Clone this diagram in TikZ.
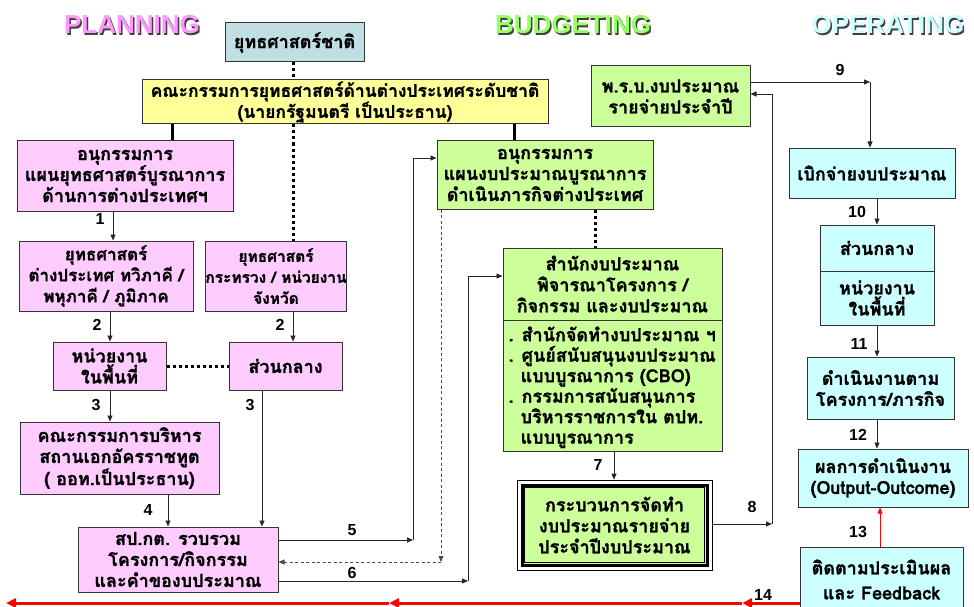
\documentclass[tikz,border=0pt]{standalone}
\usepackage{fontspec}
\setmainfont{Liberation Sans}
\newfontfamily\thaifont[Script=Thai, BoldFeatures={FakeBold=1.2}]{Loma}
\usetikzlibrary{arrows.meta,calc}
\definecolor{cpink}{HTML}{FFCCFF}
\definecolor{cyellow}{HTML}{FFFF99}
\definecolor{cgray}{HTML}{BFDFE3}
\definecolor{cgreen}{HTML}{CCFF99}
\definecolor{ccyan}{HTML}{CCFFFF}
\definecolor{tpink}{HTML}{FF99FF}
\definecolor{tgreen}{HTML}{99FF66}
\definecolor{tcyan}{HTML}{CCFFFF}
\definecolor{edge}{HTML}{333333}
\tikzset{
  bx/.style={draw=edge, line width=1pt, align=center, inner sep=1pt,
    font=\thaifont\bfseries\fontsize{18}{21}\selectfont},
  conn/.style={draw=black!85, line width=0.8pt},
  arr/.style={conn, -{Triangle[length=6pt,width=5pt]}},
  thickline/.style={draw=black, line width=3pt},
  dotline/.style={draw=black, line width=3pt, dash pattern=on 3pt off 3pt},
  dashline/.style={draw=black!70, line width=0.8pt, dash pattern=on 3pt off 2.5pt},
  num/.style={font=\bfseries\fontsize{16}{16}\selectfont, inner sep=0pt},
  ttl/.style={font=\bfseries\fontsize{26}{26}\selectfont, inner sep=0pt},
}
\begin{document}
\begin{tikzpicture}[x=1pt,y=-1pt]
\useasboundingbox[fill=white] (0,0) rectangle (974,607);

% titles
\node[ttl, text=black!75] (tp0) at (133.5,26.5) {PLANNING};
\node[ttl, text=tpink] (tp) at (132,25) {PLANNING};
\node[ttl, text=black!75] (tb0) at (574.5,26.5) {BUDGETING};
\node[ttl, text=tgreen] (tb) at (573,25) {BUDGETING};
\node[ttl, text=black!75] (to0) at (889.5,26.5) {OPERATING};
\node[ttl, text=tcyan] (to) at (888,25) {OPERATING};

% planning boxes
\node[bx, fill=cgray, minimum width=139, minimum height=39] (b1) at (294.5,42.5) {ยุทธศาสตร์ชาติ};
\node[bx, fill=cyellow, minimum width=406, minimum height=44, font=\thaifont\bfseries\fontsize{17.5}{21}\selectfont] (b2) at (345,102) {คณะกรรมการยุทธศาสตร์ด้านต่างประเทศระดับชาติ\\(นายกรัฐมนตรี เป็นประธาน)};
\node[bx, fill=cpink, minimum width=216, minimum height=70] (b3) at (125,176) {อนุกรรมการ\\แผนยุทธศาสตร์บูรณาการ\\ด้านการต่างประเทศฯ};
\node[bx, fill=cpink, minimum width=174, minimum height=70, font=\thaifont\bfseries\fontsize{17}{21}\selectfont] (b4) at (106,276) {ยุทธศาสตร์\\ต่างประเทศ ทวิภาคี /\\พหุภาคี / ภูมิภาค};
\node[bx, fill=cpink, minimum width=140, minimum height=70, inner sep=0pt, font=\thaifont\bfseries\fontsize{15.5}{21}\selectfont] (b5) at (276,276) {ยุทธศาสตร์\\กระทรวง / หน่วยงาน\\จังหวัด};
\node[bx, fill=cpink, minimum width=113, minimum height=48] (b6) at (109.5,366) {หน่วยงาน\\ในพื้นที่};
\node[bx, fill=cpink, minimum width=113, minimum height=48] (b7) at (285.5,366) {ส่วนกลาง};
\node[bx, fill=cpink, minimum width=199, minimum height=72] (b8) at (119.5,458) {คณะกรรมการบริหาร\\สถานเอกอัครราชทูต\\( ออท.เป็นประธาน)};
\node[bx, fill=cpink, minimum width=200, minimum height=65] (b9) at (178,559.5) {สป.กต. รวบรวม\\โครงการ/กิจกรรม\\และคำของบประมาณ};

% budgeting boxes
\node[bx, fill=cgreen, minimum width=216, minimum height=68] (b10) at (545,175) {อนุกรรมการ\\แผนงบประมาณบูรณาการ\\ดำเนินภารกิจต่างประเทศ};
\node[bx, fill=cgreen, minimum width=159, minimum height=61] (b11) at (670.5,96.5) {พ.ร.บ.งบประมาณ\\รายจ่ายประจำปี};
\node[bx, fill=cgreen, minimum width=219, minimum height=203] (b12) at (612.5,349.5) {};
\draw[draw=edge, line width=1pt] (b12.west |- 0,320) -- (b12.east |- 0,320);
\node[bx, draw=none, fill=none] (b12t) at (612.5,284) {สำนักงบประมาณ\\พิจารณาโครงการ /\\กิจกรรม และงบประมาณ};
\node[bx, draw=none, fill=none, align=left, anchor=north west, font=\thaifont\bfseries\fontsize{18}{20.5}\selectfont] (b12b) at (507,325) {. สำนักจัดทำงบประมาณ ฯ\\. ศูนย์สนับสนุนงบประมาณ\\\ \ แบบบูรณาการ (CBO)\\. กรรมการสนับสนุนการ\\\ \ บริหารราชการใน ตปท.\\\ \ แบบบูรณาการ};
\node[draw=black, line width=0.8pt, fill=white, minimum width=195, minimum height=90, inner sep=0pt] (b13o) at (614.5,525) {};
\node[bx, draw=black, line width=3pt, fill=cgreen, minimum width=185, minimum height=80] (b13) at (614.5,525) {กระบวนการจัดทำ\\งบประมาณรายจ่าย\\ประจำปีงบประมาณ};
\draw[draw=black, line width=0.6pt] ($(b13.north west)+(4,4)$) rectangle ($(b13.south east)+(-4,-4)$);

% operating boxes
\node[bx, fill=ccyan, minimum width=166, minimum height=50] (b14) at (872,173) {เบิกจ่ายงบประมาณ};
\node[bx, fill=ccyan, minimum width=114, minimum height=100] (b15) at (877,275) {};
\draw[draw=edge, line width=1pt] (b15.west |- 0,271) -- (b15.east |- 0,271);
\node[bx, draw=none, fill=none] (b15a) at (877,248) {ส่วนกลาง};
\node[bx, draw=none, fill=none] (b15b) at (877,298) {หน่วยงาน\\ในพื้นที่};
\node[bx, fill=ccyan, minimum width=147, minimum height=62] (b16) at (880.5,388) {ดำเนินงานตาม\\โครงการ/ภารกิจ};
\node[bx, fill=ccyan, minimum width=170, minimum height=58] (b17) at (883,478) {ผลการดำเนินงาน\\(Output-Outcome)};
\node[bx, fill=ccyan, minimum width=163, minimum height=80, anchor=north west] (b18) at (800,547) {};
\node[bx, draw=none, fill=none] (b18a) at (881.5,567) {ติดตามประเมินผล};
\node[bx, draw=none, fill=none] (b18b) at (881.5,593) {และ Feedback};

% top structure lines
\draw[dotline] (293,0 |- b1.south) -- (293,0 |- b2.north);
\draw[dotline] (293,0 |- b2.south) -- (293,0 |- b5.north);
\draw[thickline] (172,0 |- b2.south) -- (172,0 |- b3.north);
\draw[thickline] (514,0 |- b2.south) -- (514,0 |- b10.north);

% planning arrows
\draw[arr] (113,0 |- b3.south) -- (113,0 |- b4.north);
\node[num] (n1) at (100,219) {1};
\draw[arr] (110,0 |- b4.south) -- (110,0 |- b6.north);
\node[num] (n2a) at (97,325) {2};
\draw[arr] (293,0 |- b5.south) -- (293,0 |- b7.north);
\node[num] (n2b) at (280,325) {2};
\draw[draw=black, line width=3pt, dash pattern=on 3pt off 3pt] (b6.east) -- (b7.west);
\draw[arr] (110,0 |- b6.south) -- (110,0 |- b8.north);
\node[num] (n3a) at (96,405) {3};
\draw[arr] (262,0 |- b7.south) -- (262,0 |- b9.north);
\node[num] (n3b) at (250,405) {3};
\draw[arr] (168,0 |- b8.south) -- (168,0 |- b9.north);
\node[num] (n4) at (148,510) {4};

% 5
\coordinate (c5a) at (413,540);
\coordinate (c5b) at (413,158);
\draw[arr] (b9.east |- c5a) -- (c5a);
\draw[arr] (c5a) -- (c5b) -- (b10.west |- c5b);
\node[num] (n5) at (352,530) {5};
% dashed back
\coordinate (cda) at (441,562);
\draw[dashline, -{Triangle[length=6pt,width=5pt]}] (cda |- b10.south) -- (cda);
\draw[dashline, -{Triangle[length=6pt,width=5pt]}] (cda) -- (b9.east |- cda);
% 6
\coordinate (c6a) at (468,581);
\coordinate (c6b) at (468,276);
\draw[arr] (b9.east |- c6a) -- (c6a);
\draw[arr] (c6a) -- (c6b) -- (b12.west |- c6b);
\node[num] (n6) at (352,573) {6};

% budgeting
\draw[dotline] (595,0 |- b10.south) -- (595,0 |- b12.north);
\draw[arr] (614,0 |- b12.south) -- (614,0 |- b13o.north);
\node[num] (n7) at (598,465) {7};
\coordinate (c8a) at (772,524);
\coordinate (c8b) at (772,94);
\draw[arr] (b13o.east |- c8a) -- (c8a);
\draw[arr] (c8a) -- (c8b) -- (b11.east |- c8b);
\node[num] (n8) at (752,507) {8};
\coordinate (c9a) at (870,82);
\draw[arr] (b11.east |- c9a) -- (c9a);
\draw[arr] (c9a) -- (c9a |- b14.north);
\node[num] (n9) at (840,70) {9};

% operating
\draw[arr] (877,0 |- b14.south) -- (877,0 |- b15.north);
\node[num] (n10) at (857,212) {10};
\draw[arr] (877,0 |- b15.south) -- (877,0 |- b16.north);
\node[num] (n11) at (859,344) {11};
\draw[arr] (877,0 |- b16.south) -- (877,0 |- b17.north);
\node[num] (n12) at (858,435) {12};
\draw[draw=red, line width=0.8pt, -{Triangle[length=6pt,width=5pt]}] (880,0 |- b18.north) -- (880,0 |- b17.south);
\node[num] (n13) at (858,532) {13};

% 14 red feedback
\coordinate (r1) at (742,603);
\coordinate (r2) at (389,603);
\coordinate (r3) at (6,603);
\tikzset{redarr/.style={draw=red, line width=3pt, -{Triangle[length=10pt,width=9pt]}}}
\draw[redarr] (b18.west |- r1) -- (r1);
\draw[redarr] (r1) -- (r2);
\draw[redarr] (r2) -- (r3);
\node[num] (n14) at (763,595) {14};
\end{tikzpicture}
\end{document}
